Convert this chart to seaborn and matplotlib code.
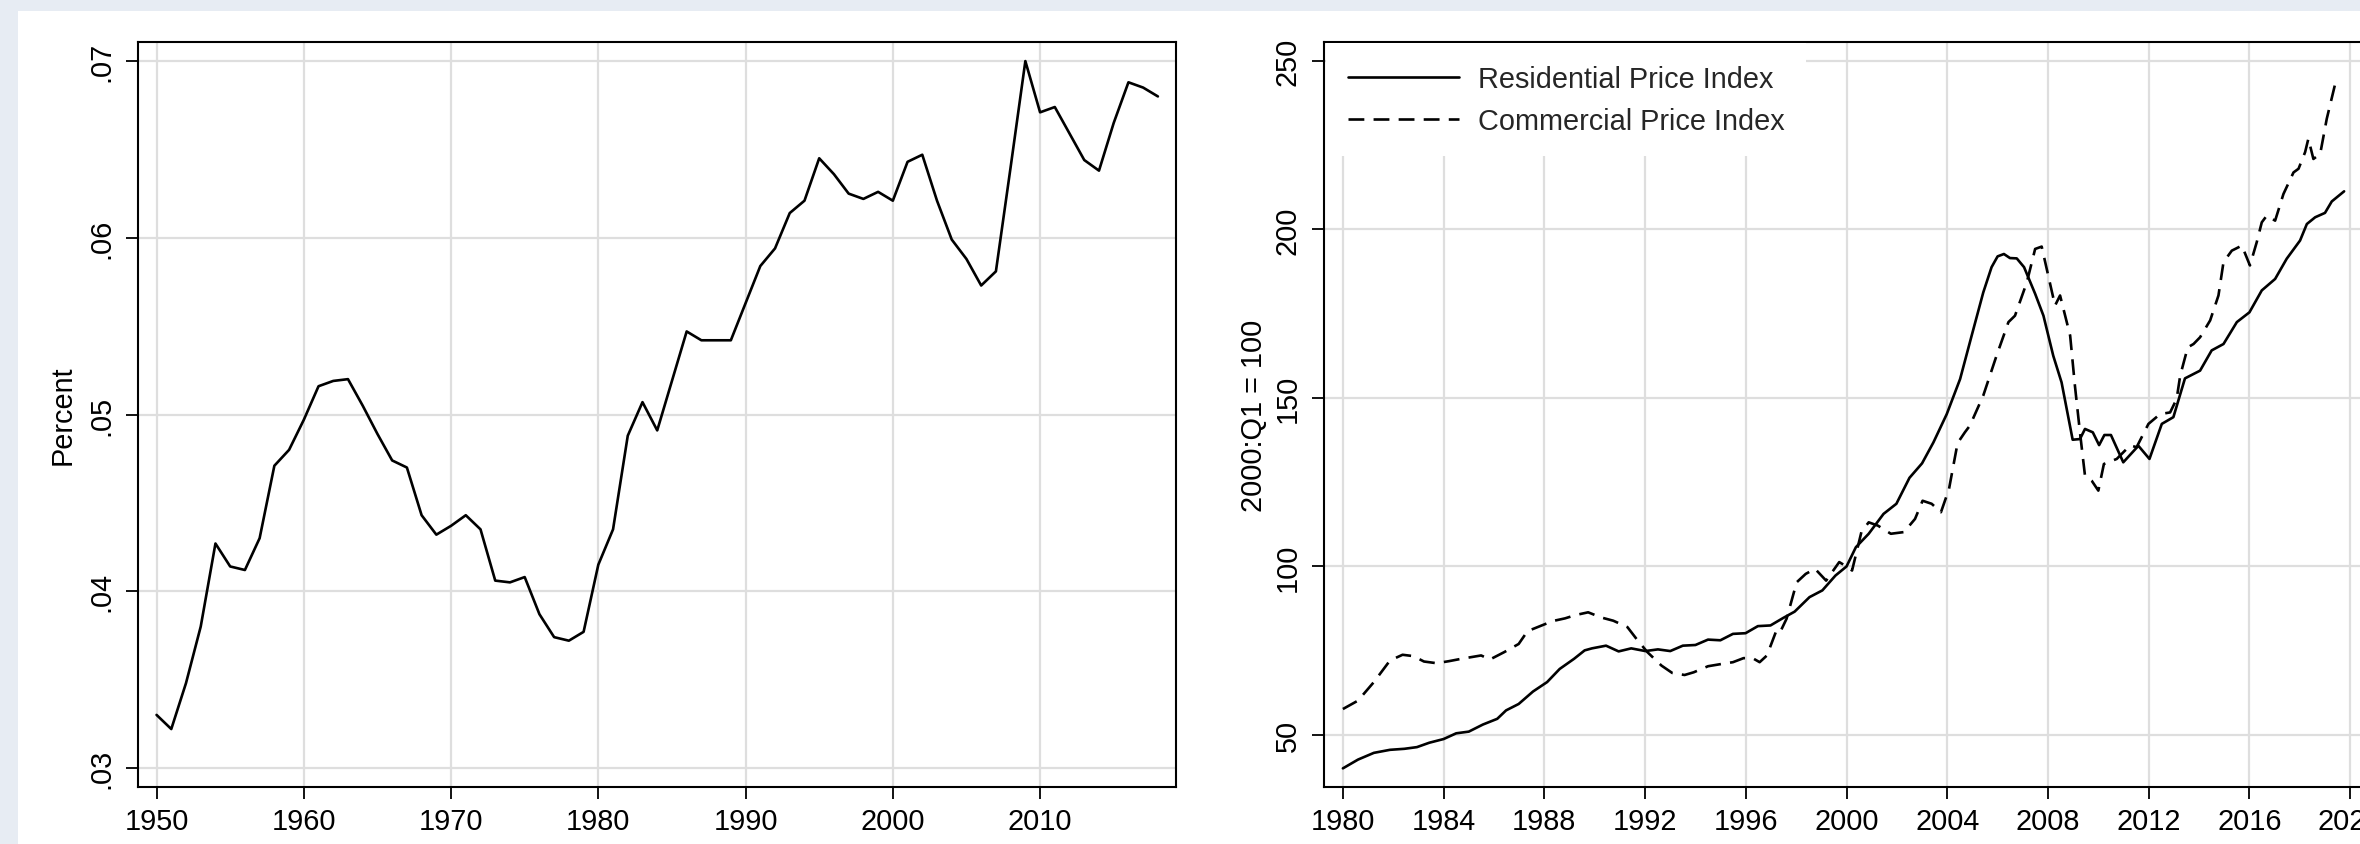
import matplotlib
matplotlib.use("Agg")
import matplotlib.pyplot as plt
from matplotlib.patches import Rectangle
import seaborn as sns
import pandas as pd

# Left panel: annual series, 1950-2018
years = list(range(1950, 2019))
percent = [
    0.0330, 0.0322, 0.0348, 0.0380, 0.0427, 0.0414, 0.0412, 0.0430, 0.0471, 0.0480,
    0.0497, 0.0516, 0.0519, 0.0520, 0.0505, 0.0489, 0.0474, 0.0470, 0.0443, 0.0432,
    0.0437, 0.0443, 0.0435, 0.0406, 0.0405, 0.0408, 0.0387, 0.0374, 0.0372, 0.0377,
    0.0415, 0.0435, 0.0488, 0.0507, 0.0491, 0.0519, 0.0547, 0.0542, 0.0542, 0.0542,
    0.0563, 0.0584, 0.0594, 0.0614, 0.0621, 0.0645, 0.0636, 0.0625, 0.0622, 0.0626,
    0.0621, 0.0643, 0.0647, 0.0621, 0.0599, 0.0588, 0.0573, 0.0581, 0.0640, 0.0700,
    0.0671, 0.0674, 0.0659, 0.0644, 0.0638, 0.0665, 0.0688, 0.0685, 0.0680,
]
left_xticks = [1950, 1960, 1970, 1980, 1990, 2000, 2010]
left_yticks = [0.03, 0.04, 0.05, 0.06, 0.07]
left_yticklabels = [".03", ".04", ".05", ".06", ".07"]

# Right panel: price indices (2000:Q1 = 100)
res_dates = [
    1980.0, 1980.6, 1981.23, 1981.87, 1982.44, 1982.94, 1983.43, 1984.0, 1984.5, 1985.0,
    1985.56, 1986.13, 1986.48, 1986.98, 1987.55, 1988.11, 1988.61, 1989.18, 1989.6, 1989.89,
    1990.45, 1990.95, 1991.45, 1992.01, 1992.51, 1993.0, 1993.5, 1994.0, 1994.5, 1994.99,
    1995.49, 1995.99, 1996.48, 1996.98, 1997.48, 1997.94, 1998.53, 1999.04, 1999.56, 2000.0,
    2000.37, 2000.88, 2001.47, 2001.98, 2002.5, 2003.0, 2003.45, 2003.98, 2004.51, 2004.97,
    2005.43, 2005.76, 2006.0, 2006.25, 2006.49, 2006.76, 2007.05, 2007.49, 2007.82, 2008.21,
    2008.54, 2008.98, 2009.27, 2009.47, 2009.78, 2010.03, 2010.24, 2010.5, 2010.99, 2011.59,
    2012.03, 2012.52, 2012.98, 2013.44, 2014.04, 2014.5, 2014.97, 2015.5, 2016.0, 2016.49,
    2017.02, 2017.48, 2018.01, 2018.28, 2018.61, 2019.0, 2019.27, 2019.76,
]
res_index = [
    40.1, 42.7, 44.7, 45.6, 45.9, 46.4, 47.7, 48.8, 50.5, 51.0,
    53.1, 54.8, 57.3, 59.2, 62.9, 65.7, 69.6, 72.6, 75.1, 75.7,
    76.5, 74.8, 75.7, 74.9, 75.4, 74.9, 76.5, 76.7, 78.3, 78.1,
    80.0, 80.2, 82.3, 82.5, 84.7, 86.6, 90.9, 92.9, 97.3, 100.0,
    105.7, 109.7, 115.6, 118.6, 126.3, 130.6, 136.8, 145.2, 155.6, 168.5,
    181.3, 188.8, 192.0, 192.7, 191.5, 191.4, 188.8, 180.9, 174.4, 162.5,
    154.6, 137.6, 137.8, 140.8, 139.8, 136.0, 139.0, 139.0, 130.9, 135.8,
    131.9, 142.3, 144.3, 155.8, 158.1, 164.1, 166.0, 172.5, 175.4, 181.9,
    185.3, 191.3, 196.7, 201.6, 203.6, 204.9, 208.3, 211.3,
]
com_dates = [
    1980.0, 1980.6, 1981.23, 1981.87, 1982.37, 1982.8, 1983.22, 1983.72, 1984.21, 1984.7,
    1985.49, 1985.84, 1986.41, 1986.98, 1987.33, 1987.83, 1988.33, 1988.82, 1989.25, 1989.74,
    1990.24, 1990.74, 1991.3, 1991.66, 1992.09, 1992.65, 1993.08, 1993.57, 1993.93, 1994.5,
    1995.06, 1995.49, 1995.91, 1996.27, 1996.55, 1996.84, 1997.19, 1997.33, 1997.62, 1998.02,
    1998.38, 1998.75, 1999.19, 1999.71, 2000.0, 2000.22, 2000.59, 2000.88, 2001.25, 2001.76,
    2002.28, 2002.72, 2003.02, 2003.38, 2003.75, 2004.07, 2004.41, 2004.7, 2004.9, 2005.43,
    2005.96, 2006.43, 2006.69, 2007.16, 2007.49, 2007.75, 2008.01, 2008.28, 2008.48, 2008.88,
    2009.07, 2009.27, 2009.47, 2009.74, 2010.0, 2010.22, 2010.73, 2011.26, 2011.52, 2011.99,
    2012.45, 2012.85, 2013.11, 2013.25, 2013.55, 2013.78, 2014.04, 2014.44, 2014.77, 2014.97,
    2015.3, 2015.7, 2016.02, 2016.29, 2016.49, 2016.69, 2017.02, 2017.35, 2017.75, 2017.95,
    2018.21, 2018.34, 2018.54, 2018.81, 2019.07, 2019.47,
]
com_index = [
    57.7, 60.2, 65.7, 72.1, 73.8, 73.4, 71.8, 71.3, 71.9, 72.6,
    73.6, 72.4, 74.6, 77.0, 80.8, 82.3, 83.8, 84.6, 85.6, 86.4,
    84.9, 83.9, 82.0, 78.5, 74.6, 70.6, 68.4, 67.8, 68.6, 70.4,
    71.1, 71.6, 72.8, 72.8, 71.6, 73.6, 80.5, 80.0, 84.5, 95.3,
    97.8, 99.3, 95.8, 101.3, 100.0, 98.8, 110.2, 113.1, 112.1, 109.7,
    110.2, 114.1, 119.5, 118.6, 116.1, 123.0, 136.6, 139.8, 141.8, 150.7,
    162.6, 172.5, 174.4, 184.3, 194.2, 194.9, 186.3, 177.4, 180.4, 168.5,
    153.6, 139.8, 126.9, 125.4, 122.5, 130.4, 131.9, 135.9, 135.4, 142.3,
    145.2, 145.7, 149.7, 156.6, 165.0, 166.0, 168.0, 173.0, 180.4, 190.3,
    193.7, 195.2, 189.3, 196.2, 202.1, 204.1, 202.6, 210.5, 216.9, 218.0,
    222.9, 226.9, 220.9, 222.4, 232.8, 245.2,
]
right_xticks = [1980, 1984, 1988, 1992, 1996, 2000, 2004, 2008, 2012, 2016, 2020]
right_yticks = [50, 100, 150, 200, 250]
right_yticklabels = ["50", "100", "150", "200", "250"]

sns.set_style("white")
plt.rcParams["font.family"] = ["Liberation Sans", "DejaVu Sans"]

W, H = 2360, 845
fig = plt.figure(figsize=(W / 100, H / 100), dpi=100)
fig.patch.set_facecolor("#E7ECF3")
fig.patches.append(Rectangle((18 / W, 0), 1, (H - 12) / H, transform=fig.transFigure,
                             facecolor="white", edgecolor="none", zorder=-10))

fs = 20.8
grid_c = "#DEDEDE"


def style_axes(ax, xticks, yticks, yticklabels, xlim, ylim, ylabel):
    ax.set_facecolor("white")
    ax.set_xlim(*xlim)
    ax.set_ylim(*ylim)
    ax.set_xticks(xticks)
    ax.set_xticklabels([str(t) for t in xticks])
    ax.set_yticks(yticks)
    ax.set_yticklabels(yticklabels, rotation=90, va="center")
    ax.grid(True, color=grid_c, linewidth=1.6)
    ax.set_axisbelow(True)
    for s in ax.spines.values():
        s.set_visible(True)
        s.set_color("black")
        s.set_linewidth(1.5)
    ax.tick_params(axis="both", direction="out", length=8.6, width=1.3,
                   color="black", labelsize=fs, labelcolor="black")
    ax.tick_params(axis="x", pad=6, bottom=True)
    ax.tick_params(axis="y", pad=7.5, left=True)
    ax.set_xlabel("")
    ax.set_ylabel(ylabel, fontsize=fs, color="black")


# left panel
ax1 = fig.add_axes([138 / W, (H - 788) / H, 1038 / W, 745 / H])
left_df = pd.DataFrame({"year": years, "pct": percent})
sns.lineplot(data=left_df, x="year", y="pct", ax=ax1, color="black", linewidth=1.9)
style_axes(ax1, left_xticks, left_yticks, left_yticklabels,
           (1948.74, 2019.23), (0.02892, 0.07108), "Percent")
ax1.yaxis.set_label_coords(-0.0588, 0.5)

# right panel
ax2 = fig.add_axes([1324 / W, (H - 788) / H, 1038 / W, 745 / H])
res_df = pd.DataFrame({"date": res_dates, "idx": res_index})
com_df = pd.DataFrame({"date": com_dates, "idx": com_index})
sns.lineplot(data=res_df, x="date", y="idx", ax=ax2, color="black", linewidth=1.9,
             label="Residential Price Index")
sns.lineplot(data=com_df, x="date", y="idx", ax=ax2, color="black", linewidth=1.9,
             label="Commercial Price Index")
ax2.lines[-1].set_dashes([6, 3.5])
style_axes(ax2, right_xticks, right_yticks, right_yticklabels,
           (1979.25, 2020.47), (34.57, 255.6), "2000:Q1 = 100")
ax2.yaxis.set_label_coords(-0.054, 0.5)
leg = ax2.legend(loc="upper left", bbox_to_anchor=(0.002, 0.998), borderaxespad=0,
                 frameon=True, fancybox=False, framealpha=1, facecolor="white",
                 edgecolor="none", fontsize=fs, handlelength=3.84, handletextpad=0.66,
                 labelspacing=0.47, borderpad=0.75)
leg.get_frame().set_linewidth(0)

fig.savefig("out.png", dpi=100, facecolor=fig.get_facecolor())
